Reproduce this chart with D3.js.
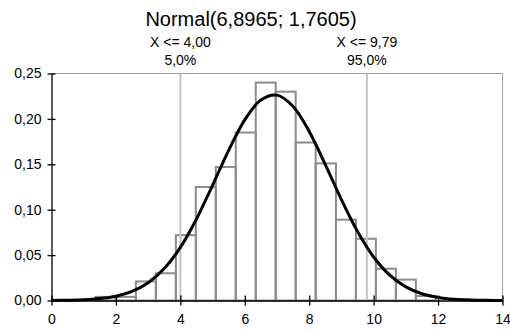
<!DOCTYPE html>
<html>
<head>
<meta charset="utf-8">
<script src="https://cdn.jsdelivr.net/npm/d3@7"></script>
<style>
	body { margin: 0; background: #fff; }
	svg text { font-family: "Liberation Sans", Arial, sans-serif; fill: #000; }
</style>
</head>
<body>
<div id="chart"></div>
<script>
// histogram bins (edges) and relative frequencies
const binEdges = [1.37, 1.99, 2.62, 3.24, 3.86, 4.48, 5.10, 5.72, 6.34, 6.96, 7.58, 8.20, 8.83, 9.45, 10.07, 10.69, 11.31, 11.93];
const binValues = [0.004, 0.004, 0.021, 0.030, 0.072, 0.125, 0.147, 0.185, 0.240, 0.230, 0.174, 0.151, 0.089, 0.068, 0.035, 0.023, 0.005];

// fitted curve, Normal(6,8965; 1,7605)
const curveX = [0, 0.5, 1, 1.5, 2, 2.5, 3, 3.5, 4, 4.5, 5, 5.5, 6, 6.5, 7, 7.5, 8, 8.5, 9, 9.5, 10, 10.5, 11, 11.5, 12, 12.5, 13, 13.5, 14];
const curveY = [0.0001, 0.0003, 0.0008, 0.0021, 0.0047, 0.0100, 0.0196, 0.0352, 0.0585, 0.0897, 0.1269, 0.1654, 0.1990, 0.2209, 0.2262, 0.2137, 0.1862, 0.1497, 0.1110, 0.0759, 0.0479, 0.0279, 0.0150, 0.0074, 0.0034, 0.0014, 0.0006, 0.0002, 0.0001];

// percentile markers
const markerX = [4.00, 9.79];
const markerLabel = ["X <= 4,00", "X <= 9,79"];
const markerPct = ["5,0%", "95,0%"];

const xTicks = [0, 2, 4, 6, 8, 10, 12, 14];
const yTicks = [0, 0.05, 0.10, 0.15, 0.20, 0.25];
const title = "Normal(6,8965; 1,7605)";

const W = 510, H = 332;
const margin = { top: 73.5, right: 7.5, bottom: 31.5, left: 51.5 };
const width = W - margin.left - margin.right;
const height = H - margin.top - margin.bottom;

const svg = d3.select("#chart").append("svg")
	.attr("width", W)
	.attr("height", H);

const g = svg.append("g")
	.attr("transform", `translate(${margin.left},${margin.top})`);

const x = d3.scaleLinear().domain([0, 14]).range([0, width]);
const y = d3.scaleLinear().domain([0, 0.25]).range([height, 0]);

const comma = (f) => (d) => d3.format(f)(d).replace(".", ",");

// frame lines top and right
g.append("line")
	.attr("x1", 0).attr("x2", width)
	.attr("y1", 0).attr("y2", 0)
	.attr("stroke", "#a0a0a0").attr("stroke-width", 1);
g.append("line")
	.attr("x1", width).attr("x2", width)
	.attr("y1", 0).attr("y2", height)
	.attr("stroke", "#a0a0a0").attr("stroke-width", 1);

// bars
const bins = binValues.map((v, i) => ({ x0: binEdges[i], x1: binEdges[i + 1], v: v }));
g.selectAll("rect.bar")
	.data(bins)
	.enter()
	.append("rect")
	.attr("class", "bar")
	.attr("x", (d) => x(d.x0))
	.attr("width", (d) => x(d.x1) - x(d.x0))
	.attr("y", (d) => y(d.v))
	.attr("height", (d) => y(0) - y(d.v))
	.attr("fill", "none")
	.attr("stroke", "#8c8c8c")
	.attr("stroke-width", 2);

// percentile lines
g.selectAll("line.marker")
	.data(markerX)
	.enter()
	.append("line")
	.attr("class", "marker")
	.attr("x1", (d) => x(d)).attr("x2", (d) => x(d))
	.attr("y1", 0).attr("y2", height)
	.attr("stroke", "#c4c4c4")
	.attr("stroke-width", 2);

// curve
const pts = curveX.map((v, i) => [v, curveY[i]]);
g.append("path")
	.datum(pts)
	.attr("fill", "none")
	.attr("stroke", "#000")
	.attr("stroke-width", 3)
	.attr("d", d3.line()
		.x((d) => x(d[0]))
		.y((d) => y(d[1]))
		.curve(d3.curveCatmullRom));

// axes
const xAxis = g.append("g")
	.attr("transform", `translate(0,${height})`)
	.call(d3.axisBottom(x).tickValues(xTicks).tickFormat(d3.format("d")).tickSizeInner(5).tickSizeOuter(0).tickPadding(9));
xAxis.selectAll(".tick line").attr("y1", -5);

const yAxis = g.append("g")
	.call(d3.axisLeft(y).tickValues(yTicks).tickFormat(comma(".2f")).tickSizeInner(4).tickSizeOuter(0).tickPadding(6));
yAxis.selectAll(".tick line").attr("x1", 4);

g.selectAll(".domain").attr("stroke", "#000").attr("stroke-width", 1.3);
g.selectAll(".tick line").attr("stroke", "#000").attr("stroke-width", 1.3);
g.selectAll(".tick text").style("font-size", "14px").attr("fill", "#000");

// labels on top
svg.append("text")
	.attr("x", 251)
	.attr("y", 26)
	.attr("text-anchor", "middle")
	.style("font-size", "20px")
	.text(title);

svg.selectAll("text.mlabel")
	.data(markerX)
	.enter()
	.append("text")
	.attr("class", "mlabel")
	.attr("x", (d) => margin.left + x(d))
	.attr("y", 47)
	.attr("text-anchor", "middle")
	.style("font-size", "14px")
	.text((d, i) => markerLabel[i]);

svg.selectAll("text.mpct")
	.data(markerX)
	.enter()
	.append("text")
	.attr("class", "mpct")
	.attr("x", (d) => margin.left + x(d))
	.attr("y", 65)
	.attr("text-anchor", "middle")
	.style("font-size", "14px")
	.text((d, i) => markerPct[i]);
</script>
</body>
</html>
